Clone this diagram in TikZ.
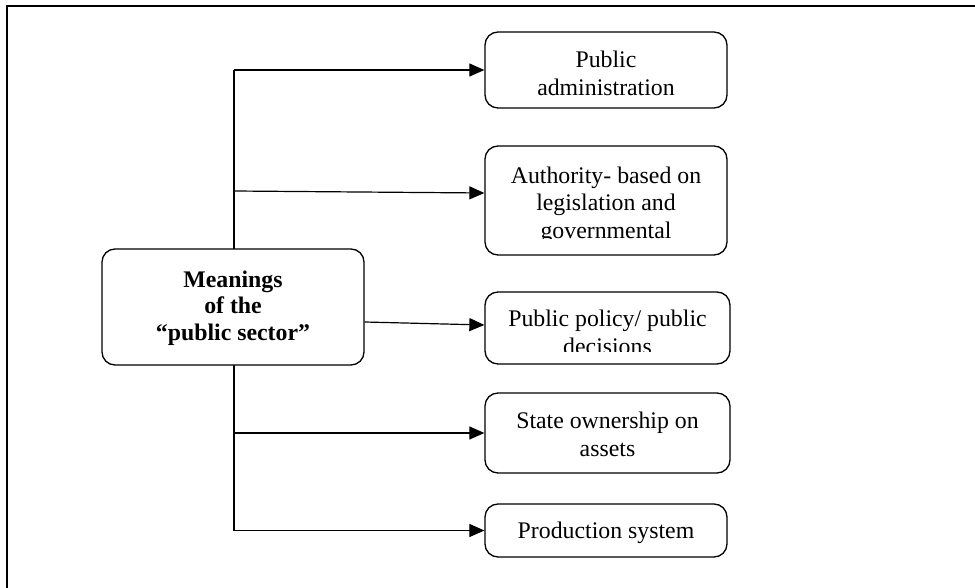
\documentclass[tikz,border=0pt]{standalone}
\usepackage{fontspec}
\setmainfont{Liberation Serif}
\usetikzlibrary{arrows.meta,calc}
\tikzset{
  box/.style={draw, line width=1.3pt, rounded corners=13pt, inner sep=0pt, fill=white},
  txt/.style={anchor=north, align=center, inner sep=0pt, font=\fontsize{23.8}{27.5}\selectfont},
  mtxt/.style={anchor=north, align=center, inner sep=0pt, font=\fontsize{23.8}{26.7}\selectfont\bfseries},
  conn/.style={line width=1.2pt},
  arr/.style={line width=1.2pt, -{Triangle[length=15pt,width=13pt]}},
  frame/.style={line width=2pt}
}
\begin{document}
\begin{tikzpicture}[x=1pt,y=-1pt]
\useasboundingbox (0,0) rectangle (975,588);
\coordinate (f1) at (7,588);
\coordinate (f2) at (7,6);
\coordinate (f3) at (975,6);
\draw[frame] (f1) -- (f2) -- (f3);

% right boxes
\node[box, minimum width=242pt, minimum height=76pt] (b1) at (606,70) {};
\node[box, minimum width=242pt, minimum height=109pt] (b2) at (606,200.5) {};
\node[box, minimum width=245pt, minimum height=72pt] (b3) at (607.5,328) {};
\node[box, minimum width=245pt, minimum height=80pt] (b4) at (607.5,433) {};
\node[box, minimum width=242pt, minimum height=53pt] (b5) at (606,530.5) {};

% trunk
\coordinate (t1) at (234,70);
\coordinate (t2) at (234,191);
\coordinate (t4) at (234,433);
\coordinate (t5) at (234,530.5);
\draw[conn] (t1) -- (t5);

% main box
\node[box, minimum width=262pt, minimum height=116pt] (m) at (233,307) {};

% arrows
\draw[arr] (t1) -- (b1.west);
\draw[arr] (t2) -- ($(b2.west)+(0,-7.5)$);
\draw[arr] ($(m.east)+(0,15)$) -- ($(b3.west)+(0,-3)$);
\draw[arr] (t4) -- (b4.west);
\draw[arr] (t5) -- (b5.west);

% texts
\node[mtxt] (mt) at (233,270.5) {Meanings\\of the\\``public sector''};
\node[txt] (t1x) at (606,50.8) {Public\\administration};
\begin{scope}
\clip (486,147) rectangle (726,239);
\node[txt] (t2x) at (606,166.5) {Authority- based on\\legislation and\\governmental};
\end{scope}
\begin{scope}
\clip (486,293) rectangle (729,351.7);
\node[txt] (t3x) at (607.5,309.8) {Public policy/ public\\decisions};
\end{scope}
\node[txt] (t4x) at (607.5,412) {State ownership on\\assets};
\node[txt] (t5x) at (606,522) {Production system};
\end{tikzpicture}
\end{document}
